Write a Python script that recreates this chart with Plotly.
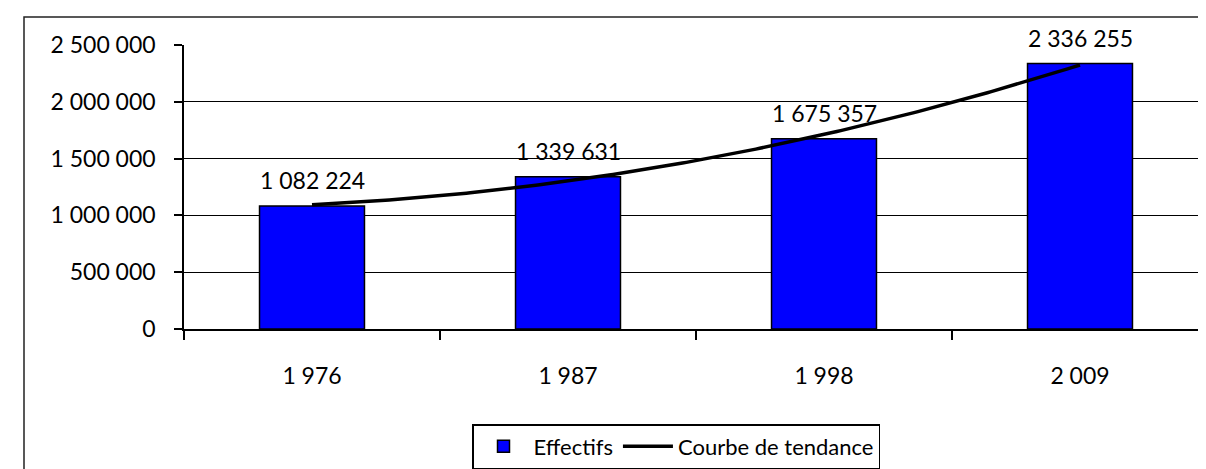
import numpy as np
import plotly.graph_objects as go

years = [1976, 1987, 1998, 2009]
tick_labels = ["1 976", "1 987", "1 998", "2 009"]
effectifs = [1082224, 1339631, 1675357, 2336255]
y_ticks = [0, 500000, 1000000, 1500000, 2000000, 2500000]

FONT = "Lato, 'Open Sans', sans-serif"
OFF = 8  # default page body margin
W, H = 1206 - OFF, 469 - OFF
L, R, T, B = 184 - OFF, 0, 45 - OFF, 139
pw = W - L - R
ph = H - T - B

pos = np.arange(len(years))
coef = np.polyfit(pos, effectifs, 2)
xt = np.linspace(pos[0], pos[-1], 200)
yt = np.polyval(coef, xt)

fig = go.Figure()
fig.add_trace(go.Bar(
    x=pos, y=effectifs, name="Effectifs", width=0.41,
    marker=dict(color="#0000FF", line=dict(color="black", width=1.5)),
))
fig.add_trace(go.Scatter(
    x=xt, y=yt, mode="lines", name="Courbe de tendance",
    line=dict(color="black", width=3.5), cliponaxis=False,
))

for p, v in zip(pos, effectifs):
    fig.add_annotation(
        x=p, y=v, xref="x", yref="y", yanchor="bottom", yshift=10,
        text=f"{v:,}".replace(",", " "), showarrow=False,
        font=dict(family=FONT, size=23, color="black"),
    )

fig.update_layout(
    width=W, height=H,
    margin=dict(l=L, r=R, t=T, b=B, pad=0),
    paper_bgcolor="white", plot_bgcolor="white",
    font=dict(family=FONT, size=23, color="black"),
    separators=", ",
    showlegend=True,
    legend=dict(
        orientation="h", x=(676 - OFF - L) / pw, xanchor="center",
        y=(H - B - (425 - OFF)) / ph, yanchor="top",
        bordercolor="black", borderwidth=1.5,
        font=dict(family=FONT, size=22, color="black"),
        itemwidth=50, traceorder="normal",
    ),
    xaxis=dict(
        range=[-0.5, -0.5 + pw / 256.0],
        tickvals=list(pos), ticktext=tick_labels,
        ticks="", showgrid=False, zeroline=False,
        showline=True, linecolor="black", linewidth=1.5,
        ticklabelstandoff=26,
        tickfont=dict(family=FONT, size=23),
        minor=dict(ticks="outside", tick0=-0.5, dtick=1, ticklen=9,
                   tickcolor="black", tickwidth=1.5, showgrid=False),
    ),
    yaxis=dict(
        range=[0, 2500000], tickvals=y_ticks, tickformat=",d",
        ticks="outside", ticklen=8, tickcolor="black", tickwidth=1.5,
        showline=True, linecolor="black", linewidth=1.5,
        showgrid=True, gridcolor="black", gridwidth=1,
        zeroline=False, ticklabelstandoff=14,
        tickfont=dict(family=FONT, size=23),
    ),
)

fig.add_shape(
    type="rect", xref="paper", yref="paper",
    x0=(24 - OFF - L) / pw, x1=1.05, y0=-0.6, y1=(H - B - (17 - OFF)) / ph,
    line=dict(color="#222222", width=1.5), fillcolor="rgba(0,0,0,0)",
    layer="below",
)

fig.write_html("out.html")
